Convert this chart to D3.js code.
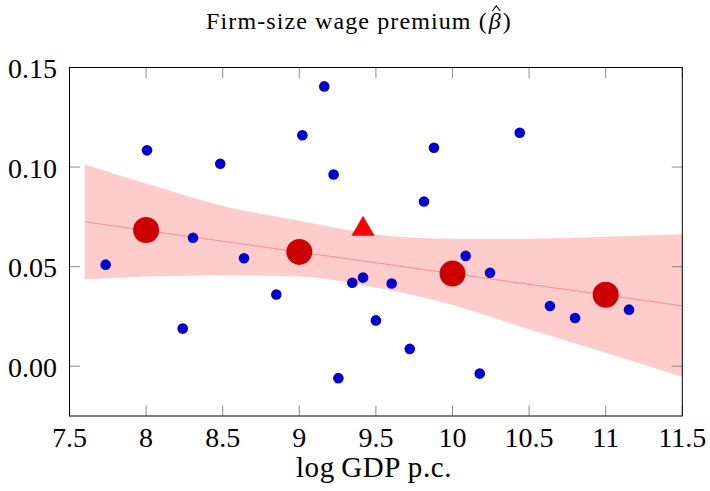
<!DOCTYPE html>
<html>
<head>
<meta charset="utf-8">
<script src="https://cdn.jsdelivr.net/npm/d3@7"></script>
<style>
  html, body { margin: 0; padding: 0; background: #fff; }
  svg { display: block; }
  text { font-family: "Liberation Serif", "Times New Roman", serif; fill: #000; }
</style>
</head>
<body>
<svg id="chart" width="710" height="491"></svg>
<script>
// ---- data ----
const countryX = [9.163, 9.020, 8.006, 8.484, 9.224, 8.306, 9.879, 10.439, 9.814, 7.736,
                  8.639, 8.850, 8.239, 9.346, 9.416, 9.500, 9.255, 9.603, 9.721, 10.178,
                  10.086, 10.245, 10.636, 10.800, 11.152];
const countryY = [0.1405, 0.1160, 0.1084, 0.1017, 0.0963, 0.0645, 0.1097, 0.1172, 0.0827, 0.0510,
                  0.0542, 0.0360, 0.0189, 0.0419, 0.0445, 0.0230, -0.0060, 0.0415, 0.0087, -0.0037,
                  0.0554, 0.0469, 0.0302, 0.0242, 0.0284];
const binX = [8, 9, 10, 11];
const binY = [0.0684, 0.0574, 0.0465, 0.0359];
const highlightX = [9.416];
const highlightY = [0.0689];
const fitX = [7.6, 11.5];
const fitY = [0.0725, 0.0303];
const bandX     = [7.6,    8.0,    8.5,    9.0,    9.5,    10.0,   10.5,   11.0,   11.5];
const bandUpper = [0.1013, 0.0917, 0.0805, 0.0730, 0.0662, 0.0640, 0.0640, 0.0650, 0.0663];
const bandLower = [0.0437, 0.0450, 0.0457, 0.0450, 0.0395, 0.0308, 0.0185, 0.0068, -0.0053];
const xTicks = [7.5, 8, 8.5, 9, 9.5, 10, 10.5, 11, 11.5];
const yTicks = [0.00, 0.05, 0.10, 0.15];
const titleParts = ["Firm-size wage premium (", "\u03B2", ")"];
const xLabel = "log\u2009GDP p.c.";

// ---- layout ----
const L = 69.5, R = 682.3, T = 67.5, B = 416;
const svg = d3.select("#chart");
const x = d3.scaleLinear().domain([7.5, 11.5]).range([L, R]);
const y = d3.scaleLinear().domain([-0.025, 0.15]).range([B, T]);

svg.append("clipPath").attr("id", "clip")
  .append("rect").attr("x", L).attr("y", T).attr("width", R - L).attr("height", B - T);
const plot = svg.append("g").attr("clip-path", "url(#clip)");

// band
const band = bandX.map((d, i) => ({x: d, lo: bandLower[i], hi: bandUpper[i]}));
plot.append("path").datum(band)
  .attr("fill", "#ffcccc")
  .attr("d", d3.area().x(d => x(d.x)).y0(d => y(d.lo)).y1(d => y(d.hi)).curve(d3.curveMonotoneX));

// fit line
plot.append("path").datum(fitX.map((d, i) => [d, fitY[i]]))
  .attr("fill", "none").attr("stroke", "#ff8c8c").attr("stroke-width", 1)
  .attr("d", d3.line().x(d => x(d[0])).y(d => y(d[1])));

// country dots
plot.selectAll("circle.c").data(countryX.map((d, i) => [d, countryY[i]])).join("circle")
  .attr("class", "c").attr("cx", d => x(d[0])).attr("cy", d => y(d[1])).attr("r", 5.3)
  .attr("fill", "#0000cc");

// bin means
plot.selectAll("circle.b").data(binX.map((d, i) => [d, binY[i]])).join("circle")
  .attr("class", "b").attr("cx", d => x(d[0])).attr("cy", d => y(d[1])).attr("r", 13)
  .attr("fill", "#cc0000");

// highlight triangle
const tri = d3.symbol().type(d3.symbolTriangle).size(230);
plot.selectAll("path.t").data(highlightX.map((d, i) => [d, highlightY[i]])).join("path")
  .attr("class", "t").attr("transform", d => `translate(${x(d[0])},${y(d[1])})`)
  .attr("d", tri).attr("fill", "#ff0000");

// ticks (inward, all sides)
const tk = 10.5;
const tg = svg.append("g").attr("stroke", "#8c8c8c").attr("stroke-width", 1);
xTicks.forEach(v => {
  tg.append("line").attr("x1", x(v)).attr("x2", x(v)).attr("y1", B).attr("y2", B - tk);
  tg.append("line").attr("x1", x(v)).attr("x2", x(v)).attr("y1", T).attr("y2", T + tk);
});
yTicks.forEach(v => {
  tg.append("line").attr("y1", y(v)).attr("y2", y(v)).attr("x1", L).attr("x2", L + tk);
  tg.append("line").attr("y1", y(v)).attr("y2", y(v)).attr("x1", R).attr("x2", R - tk);
});

// frame
svg.append("rect").attr("x", L).attr("y", T).attr("width", R - L).attr("height", B - T)
  .attr("fill", "none").attr("stroke", "#000").attr("stroke-width", 1);

// tick labels
const fmtX = d3.format("");
svg.append("g").selectAll("text").data(xTicks).join("text")
  .attr("x", d => x(d)).attr("y", 447).attr("text-anchor", "middle")
  .attr("font-size", 28).text(d => fmtX(d));
const fmtY = d3.format(".2f");
svg.append("g").selectAll("text").data(yTicks).join("text")
  .attr("x", 57).attr("y", d => y(d) + 10.5).attr("text-anchor", "end")
  .attr("font-size", 28).text(d => fmtY(d));

// axis label
svg.append("text").attr("x", 374).attr("y", 477).attr("text-anchor", "middle")
  .attr("font-size", 29).attr("letter-spacing", 0.6).text(xLabel);

// title: three pieces laid out left to right, with a hat over beta
const tfs = 24, tBase = 29, tls = 1.1;
const tg2 = svg.append("g");
const pieces = titleParts.map((s, i) => tg2.append("text").attr("font-size", tfs)
  .attr("letter-spacing", tls)
  .attr("font-style", i === 1 ? "italic" : "normal").attr("y", tBase).text(s));
const widths = pieces.map(p => p.node().getComputedTextLength());
const gaps = [0, 1, 1];
const total = widths.reduce((a, b) => a + b, 0) + gaps.reduce((a, b) => a + b, 0);
let cx = 359 - total / 2;
let betaMid = 0;
pieces.forEach((p, i) => {
  cx += gaps[i];
  p.attr("x", cx);
  if (i === 1) betaMid = cx + widths[i] / 2 + 1;
  cx += widths[i];
});
tg2.append("path")
  .attr("d", `M${betaMid - 4},${tBase - 18} L${betaMid},${tBase - 23} L${betaMid + 4},${tBase - 18}`)
  .attr("fill", "none").attr("stroke", "#000").attr("stroke-width", 1.1);
</script>
</body>
</html>
